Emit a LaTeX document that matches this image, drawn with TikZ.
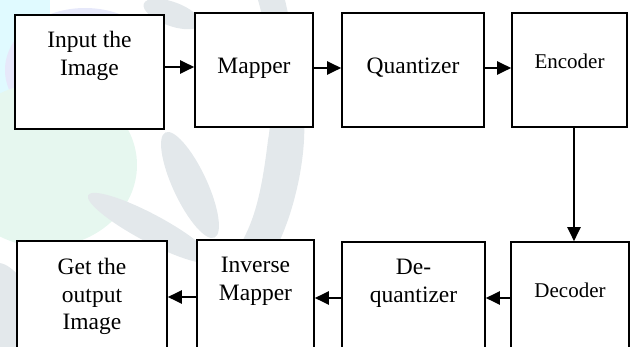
\documentclass[tikz,border=0pt]{standalone}
\usepackage{fontspec}
\setmainfont{Liberation Serif}
\usetikzlibrary{arrows.meta}
\definecolor{wmgray}{RGB}{227,232,235}
\definecolor{wmgreen}{RGB}{230,247,239}
\definecolor{wmcyan}{RGB}{224,250,255}
\definecolor{wmlav}{RGB}{230,232,250}
\begin{document}
\begin{tikzpicture}[x=1pt,y=-1pt,
  box/.style={draw, line width=1.6pt, inner sep=0pt, fill=white},
  lbl/.style={inner sep=0pt, anchor=base, font=\fontsize{23.5}{27.5}\selectfont},
  lblsmall/.style={inner sep=0pt, anchor=base, font=\fontsize{21}{25}\selectfont},
  arr/.style={line width=2.3pt, -{Triangle[length=14pt,width=13pt]}}]
\useasboundingbox (0,0) rectangle (633,347);
\clip (0,0) rectangle (633,347);
% faint watermark
\fill[wmcyan] (0,0) rectangle (50,100);
\fill[wmlav] (85,70) ellipse (80 and 62);
\fill[wmgreen] (45,165) ellipse (92 and 82);
\fill[wmgray] (258,0) .. controls (275,60) and (272,120) .. (268,140)
  .. controls (262,190) and (255,220) .. (240,245)
  -- (280,240) .. controls (298,200) and (306,150) .. (304,120)
  .. controls (300,70) and (292,30) .. (285,0) -- cycle;
\fill[wmgray, rotate around={25:(190,185)}] (190,185) ellipse (17 and 58);
\fill[wmgray, rotate around={-20:(172,14)}] (172,14) ellipse (30 and 12);
\fill[wmgray, rotate around={-28:(150,228)}] (150,228) ellipse (70 and 14);
\fill[wmgray, rotate around={20:(15,320)}] (15,320) ellipse (25 and 60);
% boxes
\node[box, minimum width=149pt, minimum height=114pt] (b1) at (89.5,72) {};
\node[box, minimum width=118pt, minimum height=114pt] (b2) at (254,70) {};
\node[box, minimum width=142pt, minimum height=114pt] (b3) at (413,70) {};
\node[box, minimum width=115pt, minimum height=114pt] (b4) at (569.5,70) {};
\node[box, minimum width=118pt, minimum height=118pt] (b5) at (570,301) {};
\node[box, minimum width=143pt, minimum height=118pt] (b6) at (413.5,301) {};
\node[box, minimum width=117pt, minimum height=120pt] (b7) at (255.5,300) {};
\node[box, minimum width=150pt, minimum height=119pt] (b8) at (92,300.5) {};
% labels
\node[lbl] (t1) at (89.5,48) {\parbox[t]{140pt}{\centering Input the\\Image}};
\node[lbl] (t2) at (254,74) {Mapper};
\node[lbl] (t3) at (413,74) {Quantizer};
\node[lblsmall] (t4) at (569.5,69) {Encoder};
\node[lblsmall] (t5) at (570,298) {Decoder};
\node[lbl] (t6) at (413.5,275) {\parbox[t]{140pt}{\centering De-\\quantizer}};
\node[lbl] (t7) at (255.5,273) {\parbox[t]{115pt}{\centering Inverse\\Mapper}};
\node[lbl] (t8) at (92,275) {\parbox[t]{145pt}{\centering Get the\\output\\Image}};
% connectors
\draw[arr] (b1.east |- 0,67) -- (b2.west |- 0,67);
\draw[arr] (b2.east |- 0,68) -- (b3.west |- 0,68);
\draw[arr] (b3.east |- 0,68) -- (b4.west |- 0,68);
\draw[arr] (574,0 |- b4.south) -- (574,0 |- b5.north);
\draw[arr] (b5.west |- 0,298) -- (b6.east |- 0,298);
\draw[arr] (b6.west |- 0,298) -- (b7.east |- 0,298);
\draw[arr] (b7.west |- 0,297) -- (b8.east |- 0,297);
\end{tikzpicture}
\end{document}
